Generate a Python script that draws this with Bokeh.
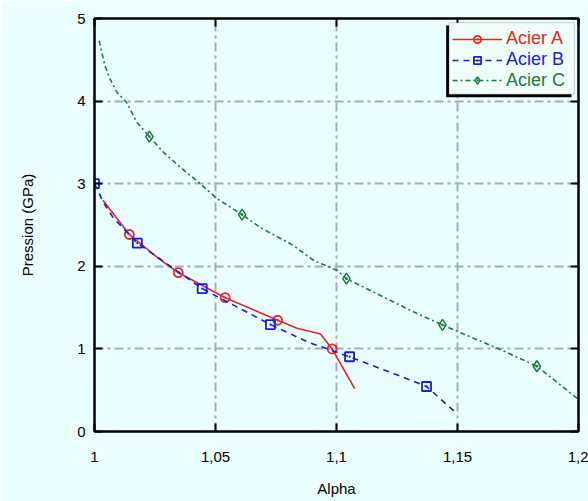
from bokeh.plotting import figure
from bokeh.models import (Range1d, FixedTicker, CustomJSTickFormatter, LinearAxis,
                          Legend, LegendItem, BoxAnnotation)
from bokeh.embed import file_html
from bokeh.resources import INLINE

# ---- data ----
x_ticks = [1.0, 1.05, 1.1, 1.15, 1.2]
x_tick_labels = ["1", "1,05", "1,1", "1,15", "1,2"]
y_ticks = [0, 1, 2, 3, 4, 5]

a_label = "Acier A"
a_x = [1.0035, 1.0144, 1.0271, 1.0346, 1.054, 1.0757, 1.0837, 1.0934, 1.0982, 1.1075]
a_y = [2.80, 2.385, 2.08, 1.924, 1.62, 1.347, 1.25, 1.18, 1.0, 0.52]
a_mx = [1.0144, 1.0346, 1.054, 1.0757, 1.0982]
a_my = [2.385, 1.924, 1.62, 1.347, 1.0]

b_label = "Acier B"
b_x = [1.0, 1.0014, 1.0035, 1.0077, 1.0177, 1.0445, 1.0727, 1.0884, 1.1054, 1.1277, 1.1372, 1.1492]
b_y = [3.0, 2.92, 2.78, 2.59, 2.28, 1.73, 1.295, 1.08, 0.905, 0.655, 0.545, 0.23]
b_mx = [1.0, 1.0177, 1.0445, 1.0727, 1.1054, 1.1372]
b_my = [3.0, 2.28, 1.73, 1.295, 0.905, 0.545]

c_label = "Acier C"
c_x = [1.0019, 1.003, 1.0043, 1.0064, 1.0092, 1.0133, 1.0175, 1.0227, 1.0285, 1.0354,
       1.0437, 1.0506, 1.061, 1.0685, 1.0823, 1.0906, 1.1003, 1.1041, 1.1169, 1.1306,
       1.1438, 1.1513, 1.1679, 1.1828, 1.1997]
c_y = [4.73, 4.59, 4.43, 4.27, 4.11, 3.98, 3.745, 3.57, 3.38, 3.20,
       3.0, 2.82, 2.625, 2.47, 2.25, 2.07, 1.95, 1.85, 1.665, 1.465,
       1.29, 1.195, 0.99, 0.79, 0.395]
c_mx = [1.0227, 1.061, 1.1041, 1.1438, 1.1828]
c_my = [3.57, 2.625, 1.85, 1.29, 0.79]

# ---- styles ----
BG = "#eaffff"
LEG_BG = "#effffa"
RED = "#ee2222"
BLUE = "#1a1aee"
GREEN = "#1e7a3c"
GRID = "#a3acbf"
FONT = "Liberation Sans"

p = figure(width=588, height=501, output_backend="svg", toolbar_location=None,
           x_range=Range1d(1, 1.2), y_range=Range1d(0, 5),
           background_fill_color=BG, border_fill_color=BG,
           min_border_left=94, min_border_right=10, min_border_top=18, min_border_bottom=70,
           x_axis_label="Alpha", y_axis_label="Pression (GPa)")

p.outline_line_color = "black"
p.outline_line_width = 2

fmt = CustomJSTickFormatter(args=dict(vals=x_ticks, labs=x_tick_labels), code="""
    const i = vals.findIndex(v => Math.abs(v - tick) < 1e-9);
    return i >= 0 ? labs[i] : '';
""")
p.xaxis.ticker = FixedTicker(ticks=x_ticks)
p.xaxis.formatter = fmt
p.yaxis.ticker = FixedTicker(ticks=y_ticks)

for ax in (p.xaxis, p.yaxis):
    ax.axis_line_width = 2
    ax.axis_line_color = "black"
    ax.major_tick_in = 8
    ax.major_tick_out = 0
    ax.major_tick_line_width = 2
    ax.minor_tick_line_color = None
    ax.major_label_text_font = FONT
    ax.major_label_text_font_size = "15px"
    ax.major_label_text_color = "black"
    ax.axis_label_text_font = FONT
    ax.axis_label_text_font_size = "15px"
    ax.axis_label_text_font_style = "normal"
    ax.axis_label_text_color = "black"
p.xaxis.major_label_standoff = 20
p.xaxis.axis_label_standoff = 15
p.yaxis.major_label_standoff = 9
p.yaxis.axis_label_standoff = 38

# mirrored axes (ticks only)
empty = CustomJSTickFormatter(code="return '';")
top = LinearAxis(ticker=FixedTicker(ticks=x_ticks), formatter=empty)
right = LinearAxis(ticker=FixedTicker(ticks=y_ticks), formatter=empty)
for ax in (top, right):
    ax.axis_line_width = 2
    ax.major_tick_in = 8
    ax.major_tick_out = 0
    ax.major_tick_line_width = 2
    ax.minor_tick_line_color = None
    ax.major_label_standoff = 0
    ax.major_label_text_font_size = "1px"
p.add_layout(top, "above")
p.add_layout(right, "right")

for g in (p.xgrid, p.ygrid):
    g.grid_line_color = GRID
    g.grid_line_width = 2
    g.grid_line_dash = "9 4 3 4"
p.xgrid.ticker = FixedTicker(ticks=x_ticks)
p.ygrid.ticker = FixedTicker(ticks=y_ticks)

# ---- series ----
ra = p.line(a_x, a_y, line_color=RED, line_width=1.6)
rma = p.scatter(a_mx, a_my, marker="circle_dot", size=9, line_color=RED, fill_color=None, line_width=1.8)

rb = p.line(b_x, b_y, line_color=BLUE, line_width=1.6, line_dash="6 5")
rmb = p.scatter(b_mx, b_my, marker="square_dot", size=9, line_color=BLUE, fill_color=None, line_width=1.8)

rc = p.line(c_x, c_y, line_color=GREEN, line_width=1.6, line_dash="5 3 2 3")
rmc = p.scatter(c_mx, c_my, marker="diamond_dot", size=11, line_color=GREEN, fill_color=None, line_width=1.5)

# ---- legend box with shadow ----
shadow = BoxAnnotation(left=1.1453, right=1.1971, top=4.915, bottom=4.047,
                       fill_color="black", fill_alpha=1, line_color=None, level="overlay")
box = BoxAnnotation(left=1.1465, right=1.1983, top=4.949, bottom=4.084,
                    fill_color=LEG_BG, fill_alpha=1, line_color="#555555", line_width=1,
                    level="overlay")
p.add_layout(shadow)
p.add_layout(box)

entries = [(a_label, [ra, rma], RED, 382),
           (b_label, [rb, rmb], BLUE, 361),
           (c_label, [rc, rmc], GREEN, 340.5)]
for lab, rends, col, ybot in entries:
    lg = Legend(items=[LegendItem(label=lab, renderers=rends)], location=(358, ybot),
                background_fill_alpha=0, border_line_color=None,
                label_text_color=col, label_text_font=FONT, label_text_font_size="18px",
                glyph_width=50, glyph_height=18, label_height=18, label_standoff=4,
                padding=0, margin=0, spacing=0)
    p.add_layout(lg, "center")

open("out.html", "w").write(file_html(p, INLINE))
